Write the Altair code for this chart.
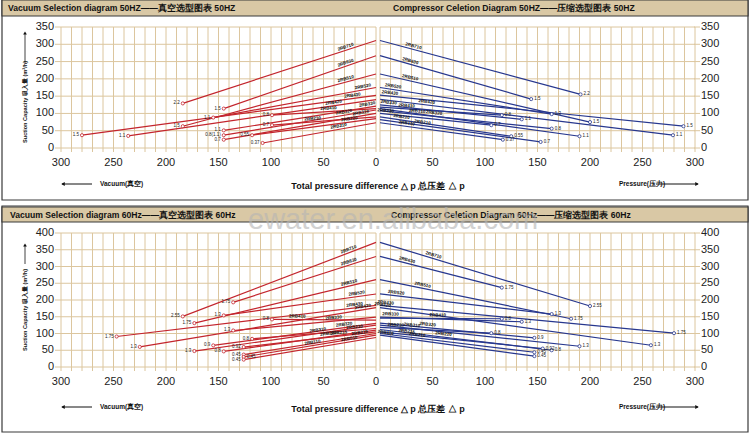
import math
import altair as alt
import pandas as pd

# ---------------- data ----------------
# 50 Hz, vacuum side (left, top): capacity at 0, end point (Δp, capacity), motor kW
V50_MODEL = ["2RB710", "2RB630", "2RB510", "2RB520", "2RB430", "2RB420", "2RB330",
             "2RB410", "2RB320", "2RB310", "2RB230", "2RB220", "2RB210"]
V50_Q0 = [311, 267, 214, 175, 152, 140, 121, 114, 110, 100, 90, 85, 73]
V50_PE = [184, 145, 184, 155, 280, 236, 145, 99, 145, 145, 99, 118, 108]
V50_QE = [129, 114, 63, 88, 37, 35, 51, 95, 37, 24, 66, 37, 14.5]
V50_KW = ["2.2", "1.5", "1.5", "1.1", "1.5", "1.1", "1.1", "0.8", "0.8(1.1)", "0.7", "0.7", "0.55", "0.37"]
V50_LP = [28, 28, 28, 12, 22, 40, 8, 45, 30, 14, 60, 25, 35]

# 50 Hz, pressure side (right, top)
P50_MODEL = ["2RB710", "2RB630", "2RB510", "2RB520", "2RB430", "2RB420", "2RB330",
             "2RB410", "2RB320", "2RB310", "2RB230", "2RB220", "2RB210", "2RB110"]
P50_Q0 = [311, 267, 214, 175, 153, 141, 125, 118, 114, 108, 100, 90, 82, 73]
P50_PE = [191, 144, 200, 163.5, 289, 279, 135, 116, 190, 163.5, 106, 125, 153, 117]
P50_QE = [155, 141.5, 75, 98, 63, 37, 83, 95, 34, 56, 66, 34, 17.5, 24]
P50_KW = ["2.2", "1.5", "1.5", "1.3", "1.5", "1.1", "1.1", "0.8", "1.1", "0.8", "0.7", "0.55", "0.7", "0.37"]
P50_LP = [31, 28, 28, 12, 9, 44, 8, 25, 51, 35, 5, 20, 40, 25]

# 60 Hz, vacuum side (left, bottom)
V60_MODEL = ["2RB710", "2RB630", "2RB510", "2RB520", "2RB430", "2RB420", "2RB330", "2RB410",
             "2RB320", "2RB310", "2RB230", "2RB220", "2RB215", "2RB210", "2RB110", "2RB010"]
V60_Q0 = [372, 330, 261, 218, 184, 177, 149, 140, 130, 125, 115, 110, 105, 100, 95, 88]
V60_PE = [184, 136, 173, 145, 247, 225, 136, 99, 155, 173, 118, 145, 126, 126, 126, 126]
V60_QE = [151, 193, 131, 154, 91, 60, 109, 142, 64.5, 47.6, 84, 46.6, 59.6, 37, 30, 22]
V60_KW = ["2.55", "1.75", "1.75", "1.3", "1.75", "1.3", "1.3", "0.8", "0.9", "1.3", "0.8", "0.8",
          "0.92", "0.45", "0.45", "0.45"]
V60_LP = [25, 25, 25, 18, 20, 12, 40, 75, 30, 55, 20, 45, 35, 15, 60, 25]

# 60 Hz, pressure side (right, bottom)
P60_MODEL = ["2RB710", "2RB630", "2RB510", "2RB520", "2RB430", "2RB420", "2RB330", "2RB410",
             "2RB320", "2RB310", "2RB230", "2RB220", "2RB215", "2RB210", "2RB110"]
P60_Q0 = [372, 330, 261, 218, 184, 177, 149, 146, 131, 125, 118, 112, 105, 100, 95]
P60_PE = [200, 116, 182, 163.5, 280, 258, 135, 116, 147, 190, 106, 163.5, 155, 147, 147]
P60_QE = [182, 237, 144, 158, 101, 65, 135, 144, 87, 62, 101, 50, 55, 44, 32.5]
P60_KW = ["2.55", "1.75", "1.75", "1.3", "1.75", "1.3", "1.3", "0.8", "0.9", "1.3", "0.8", "0.8",
          "0.92", "0.45", "0.45"]
P60_LP = [50, 25, 40, 15, 5, 2, 10, 55, 45, 30, 15, 60, 25, 35, 5]

X_TICKS = list(range(0, 301, 50))

# ---------------- styling ----------------
FONT = "Liberation Sans"
NARROW = "Liberation Sans Narrow, Liberation Sans"
RED = "#C3252D"
BLUE = "#27378E"
GRID = "#DCC69E"
HEAD = "#D9C8A5"
FRAME = "#3A3A3A"
KX = 315 / 300


def one():
    return pd.DataFrame({"a": [0]})


def make_panel(side, row, model, q0, pe, qe, kw, lp, color, flip=()):
    ymax = 350 if row == 0 else 400
    yr = [148, 27] if row == 0 else [367, 233]
    ky = (yr[0] - yr[1]) / ymax
    xr = [376, 61] if side == "L" else [380, 695]
    XS = alt.Scale(domain=[0, 300], range=xr, nice=False, zero=False)
    YS = alt.Scale(domain=[0, ymax], range=yr, nice=False, zero=False)

    def ex(f):
        return alt.X(f, type="quantitative", scale=XS, axis=None)

    def ey(f):
        return alt.Y(f, type="quantitative", scale=YS, axis=None)

    layers = []
    g = pd.DataFrame({"g": list(range(0, 301, 10))})
    g["a"] = 0
    g["b"] = ymax
    layers.append(alt.Chart(g).mark_rule(color=GRID, strokeWidth=1).encode(
        x=ex("g"), y=ey("a"), y2=alt.Y2("b")))
    h = pd.DataFrame({"g": list(range(0, ymax + 1, 50))})
    h["a"] = 0
    h["b"] = 300
    layers.append(alt.Chart(h).mark_rule(color=GRID, strokeWidth=1).encode(
        y=ey("g"), x=ex("a"), x2=alt.X2("b")))
    base = yr[0]
    layers.append(alt.Chart(g).mark_rule(color=GRID, strokeWidth=1).encode(
        x=ex("g"), y=alt.value(base), y2=alt.value(base + 4)))
    if side == "L":
        layers.append(alt.Chart(h).mark_rule(color=GRID, strokeWidth=1).encode(
            y=ey("g"), x=alt.value(55), x2=alt.value(61)))
        layers.append(alt.Chart(h).mark_text(align="right", baseline="middle", fontSize=11,
                                             font=FONT, color="#222").encode(
            y=ey("g"), x=alt.value(54), text="g:Q"))
        xl = pd.DataFrame({"g": X_TICKS})
    else:
        layers.append(alt.Chart(h).mark_rule(color=GRID, strokeWidth=1).encode(
            y=ey("g"), x=alt.value(694), x2=alt.value(700)))
        layers.append(alt.Chart(h).mark_text(align="left", baseline="middle", fontSize=11,
                                             font=FONT, color="#222").encode(
            y=ey("g"), x=alt.value(701), text="g:Q"))
        xl = pd.DataFrame({"g": X_TICKS[1:]})
    layers.append(alt.Chart(xl).mark_text(align="center", baseline="top", fontSize=11,
                                          font=FONT, color="#222").encode(
        x=ex("g"), y=alt.value(base + 9), text="g:Q"))

    rows = []
    for i in range(len(model)):
        rows.append({"m": model[i] + str(i), "p": 0, "q": q0[i], "o": 0})
        rows.append({"m": model[i] + str(i), "p": pe[i], "q": qe[i], "o": 1})
    layers.append(alt.Chart(pd.DataFrame(rows)).mark_line(color=color, strokeWidth=1.2).encode(
        x=ex("p"), y=ey("q"), detail="m:N", order="o:Q"))

    pts = pd.DataFrame({"p": pe, "q": qe, "k": kw})
    layers.append(alt.Chart(pts).mark_point(shape="circle", size=10, filled=True, fill="white",
                                            stroke=color, strokeWidth=0.8, opacity=1).encode(
        x=ex("p"), y=ey("q")))
    normal = pts[[i not in flip for i in range(len(pts))]]
    flipped = pts[[i in flip for i in range(len(pts))]]
    near = "right" if side == "L" else "left"
    far = "left" if side == "L" else "right"
    d = -3 if side == "L" else 3
    layers.append(alt.Chart(normal).mark_text(fontSize=4.5, font=FONT, color="#222",
                                              align=near, dx=d, baseline="middle").encode(
        x=ex("p"), y=ey("q"), text="k:N"))
    if len(flipped):
        layers.append(alt.Chart(flipped).mark_text(fontSize=4.5, font=FONT, color="#222",
                                                   align=far, dx=-d, baseline="middle").encode(
            x=ex("p"), y=ey("q"), text="k:N"))

    lab = []
    for i in range(len(model)):
        t = lp[i] / pe[i]
        q = q0[i] + (qe[i] - q0[i]) * t
        dxp = pe[i] * KX
        dyp = (q0[i] - qe[i]) * ky
        deg = math.degrees(math.atan2(dyp, dxp))
        ang = (360 - deg) % 360 if side == "L" else deg
        lab.append({"p": lp[i], "q": q, "m": model[i], "a": ang})
    layers.append(alt.Chart(pd.DataFrame(lab)).mark_text(fontSize=4.5, font=FONT, color="#111",
                                                         fontWeight="bold",
                                                         baseline="bottom", dy=-1).encode(
        x=ex("p"), y=ey("q"), text="m:N", angle=alt.Angle("a:Q", scale=None)))
    return layers


def text_at(x, y, s, size, align="left", weight="normal", font=FONT, color="#111", angle=0):
    kw = dict(align=align, baseline="middle", fontSize=size, fontWeight=weight, font=font, color=color)
    if angle:
        kw["angle"] = angle
    return alt.Chart(one()).mark_text(**kw).encode(x=alt.value(x), y=alt.value(y), text=alt.value(s))


def box(x1, y1, x2, y2, fill=None, stroke=FRAME, sw=1.2):
    kw = dict(stroke=stroke, strokeWidth=sw)
    if fill:
        kw["fill"] = fill
    else:
        kw["fillOpacity"] = 0
    return alt.Chart(one()).mark_rect(**kw).encode(
        x=alt.value(x1), x2=alt.value(x2), y=alt.value(y1), y2=alt.value(y2))


def hline(x1, x2, y, color="#111", sw=1):
    return alt.Chart(one()).mark_rule(color=color, strokeWidth=sw).encode(
        x=alt.value(x1), x2=alt.value(x2), y=alt.value(y))


def vline(x, y1, y2, color="#111", sw=1):
    return alt.Chart(one()).mark_rule(color=color, strokeWidth=sw).encode(
        x=alt.value(x), y=alt.value(y1), y2=alt.value(y2))


def tri(x, y, shape, size=22):
    return alt.Chart(one()).mark_point(shape=shape, filled=True, color="#111", size=size, opacity=1).encode(
        x=alt.value(x), y=alt.value(y))


layers = []
# frames and header bars
layers += [box(2, 0, 748, 200), box(2, 206, 748, 432)]
layers += [box(2, 0, 748, 16, fill=HEAD), box(2, 207, 748, 222, fill=HEAD)]
layers += [text_at(8, 8, "Vacuum Selection diagram 50HZ——真空选型图表 50HZ", 8.6, weight="bold"),
           text_at(393, 8, "Compressor Celetion Diagram 50HZ——压缩选型图表 50HZ", 8.6, weight="bold"),
           text_at(10, 214.5, "Vacuum Selection diagram 60Hz——真空选型图表 60Hz", 8.6, weight="bold"),
           text_at(391, 214.5, "Compressor Celetion Diagram 60Hz——压缩选型图表 60Hz", 8.6, weight="bold")]

layers += make_panel("L", 0, V50_MODEL, V50_Q0, V50_PE, V50_QE, V50_KW, V50_LP, RED)
layers += make_panel("R", 0, P50_MODEL, P50_Q0, P50_PE, P50_QE, P50_KW, P50_LP, BLUE)
layers += make_panel("L", 1, V60_MODEL, V60_Q0, V60_PE, V60_QE, V60_KW, V60_LP, RED, flip=(14,))
layers += make_panel("R", 1, P60_MODEL, P60_Q0, P60_PE, P60_QE, P60_KW, P60_LP, BLUE)

# y-axis titles with arrows
for (yc, a1, a2) in [(102, 34, 63), (310, 246, 264)]:
    layers.append(text_at(25, yc, "Suction Capacity 吸入量   (m³/h)", 5.6, align="center",
                          weight="bold", angle=270))
    layers.append(vline(25, a1, a2, sw=0.8))
    layers.append(tri(25, a1 - 1, "triangle-up", 14))

# bottom annotation rows
for yy in [184, 407]:
    layers.append(hline(62, 92, yy, sw=1))
    layers.append(tri(63, yy, "triangle-left", 16))
    layers.append(text_at(100, yy, "Vacuum(真空)", 6.5, weight="bold", font=NARROW))
    layers.append(text_at(378, yy + 2, "Total pressure difference △ p 总压差  △ p", 9, align="center",
                          weight="bold", font=NARROW))
    layers.append(text_at(619, yy, "Pressure(压力)", 6.5, weight="bold", font=NARROW))
    layers.append(hline(656, 698, yy, sw=1))
    layers.append(tri(697, yy, "triangle-right", 16))

# watermark
layers.append(alt.Chart(one()).mark_text(align="left", baseline="alphabetic", fontSize=29, font=FONT,
                                         color="#b5b5b5", opacity=0.6).encode(
    x=alt.value(248), y=alt.value(229), text=alt.value("ewater.en.alibaba.com")))

chart = alt.layer(*layers).resolve_scale(x="independent", y="independent").properties(
    width=750, height=435, autosize=alt.AutoSizeParams(type="none"), padding=0,
    background="white"
).configure_view(strokeWidth=0)

chart.save("out.html", embed_options={"renderer": "svg", "actions": False})
